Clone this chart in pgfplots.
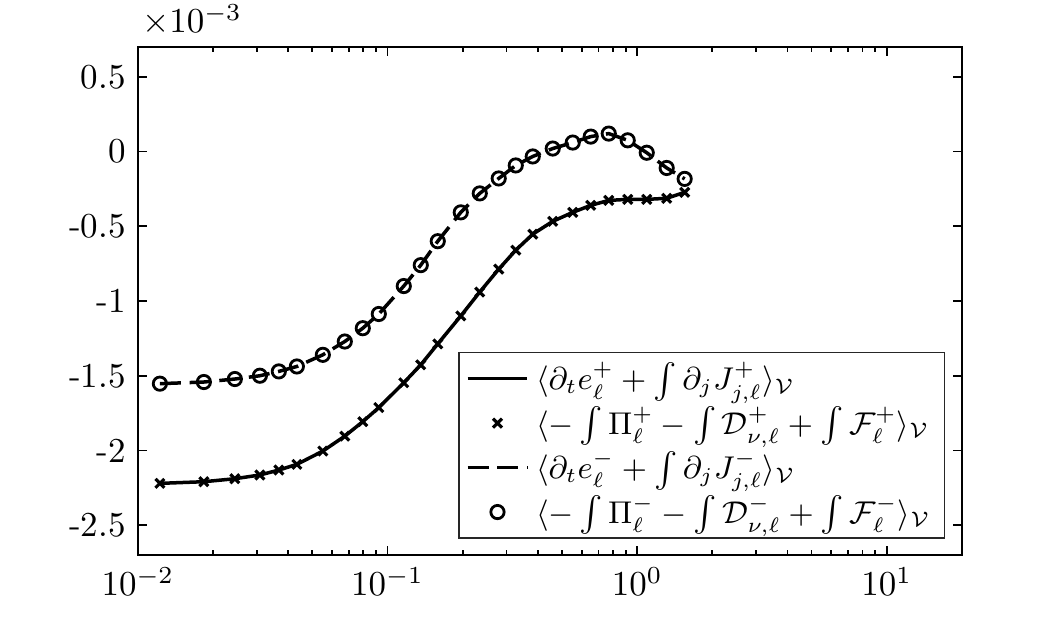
\documentclass[border=0pt]{standalone}
\usepackage{pgfplots}
\pgfplotsset{compat=1.18}
\pgfplotstableread{
x ya yb
0.01225 -2.220 -1.553
0.01838 -2.209 -1.542
0.02446 -2.189 -1.522
0.03081 -2.164 -1.500
0.03670 -2.131 -1.471
0.04334 -2.093 -1.438
0.05507 -2.004 -1.360
0.06745 -1.904 -1.271
0.07963 -1.807 -1.182
0.09230 -1.713 -1.087
0.1162 -1.547 -0.900
0.1359 -1.427 -0.760
0.1590 -1.287 -0.600
0.1966 -1.100 -0.407
0.2342 -0.940 -0.280
0.2790 -0.787 -0.180
0.3265 -0.660 -0.093
0.3819 -0.553 -0.033
0.4592 -0.467 0.020
0.5522 -0.407 0.060
0.6519 -0.360 0.100
0.7699 -0.327 0.120
0.9171 -0.320 0.075
1.093 -0.320 -0.008
1.314 -0.313 -0.110
1.551 -0.273 -0.183
}\datatable
\begin{document}
\begin{tikzpicture}
\begin{axis}[
  scale only axis, width=235.4pt, height=145.2pt,
  xmode=log, xmin=0.01, xmax=20, ymin=-2.7, ymax=0.7,
  xtick={0.01,0.1,1,10},
  ytick={-2.5,-2,-1.5,-1,-0.5,0,0.5},
  yticklabels={-2.5,-2,-1.5,-1,-0.5,0,0.5},
  tick align=inside, major tick length=2.6pt, minor tick length=1.4pt,
  axis line style={line width=0.6pt},
  every tick/.style={black, line width=0.5pt},
  legend cell align=left,
  legend style={at={(rel axis cs:1,0)}, anchor=south east, xshift=-4.7pt, yshift=4.6pt,
    draw=black!85, line width=0.5pt, inner xsep=2pt, inner ysep=0.8pt,
    font=\fontsize{8.8}{10}\selectfont, row sep=-0.6pt},
]
\addplot[black, line width=1pt, no marks] table[x=x, y=ya] {\datatable};
\addlegendentry{$\langle\partial_t e_\ell^+ + \int\partial_j J^+_{j,\ell}\rangle_{\mathcal{V}}$}
\addplot[black, only marks, mark=x, mark size=1.8pt, mark options={line width=0.9pt}] table[x=x, y=ya] {\datatable};
\addlegendentry{$\langle -\int\Pi_\ell^+ - \int\mathcal{D}^+_{\nu,\ell} + \int\mathcal{F}_\ell^+\rangle_{\mathcal{V}}$}
\addplot[black, line width=1pt, no marks, dash pattern=on 6pt off 2.5pt] table[x=x, y=yb] {\datatable};
\addlegendentry{$\langle\partial_t e_\ell^- + \int\partial_j J^-_{j,\ell}\rangle_{\mathcal{V}}$}
\addplot[black, only marks, mark=o, mark size=1.9pt, mark options={line width=0.8pt}] table[x=x, y=yb] {\datatable};
\addlegendentry{$\langle -\int\Pi_\ell^- - \int\mathcal{D}^-_{\nu,\ell} + \int\mathcal{F}_\ell^-\rangle_{\mathcal{V}}$}
\end{axis}
\node[anchor=base west, inner sep=0pt] at ([xshift=1pt,yshift=4pt]current axis.north west) {$\times10^{-3}$};
\path ([xshift=-39.4pt,yshift=-20pt]current axis.south west) rectangle ([xshift=28.9pt,yshift=13.4pt]current axis.north east);
\end{tikzpicture}
\end{document}
